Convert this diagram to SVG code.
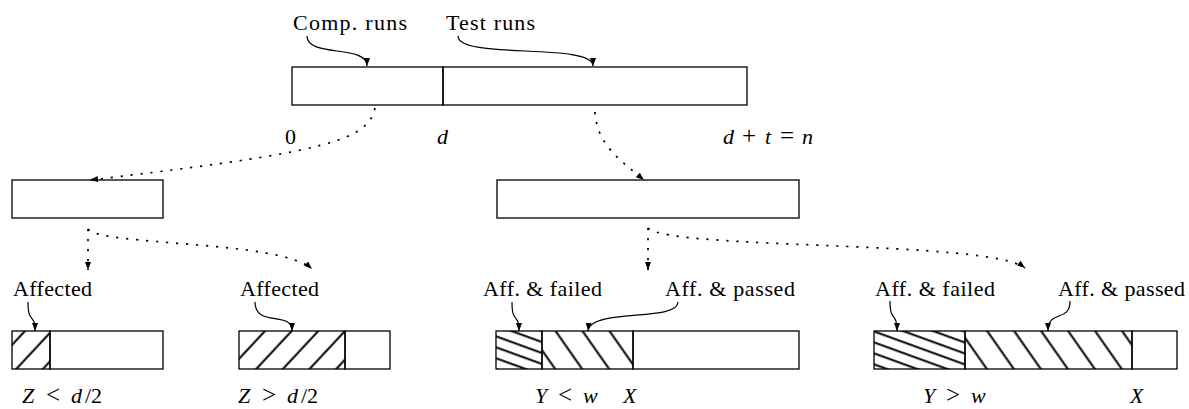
<svg xmlns="http://www.w3.org/2000/svg" width="1189" height="409" viewBox="0 0 1189 409">
<style>
.box{fill:none;stroke:#000;stroke-width:1.3}
.t{font-family:"Liberation Serif","Times New Roman",serif;font-size:22px;fill:#000}
.i{font-family:"Liberation Serif","Times New Roman",serif;font-style:italic}
.op{font-size:25px}
.cur{fill:none;stroke:#000;stroke-width:1.2;marker-end:url(#ah)}
.dot{fill:none;stroke:#000;stroke-width:1.7;stroke-dasharray:2.2 7.8;stroke-linecap:butt;marker-end:url(#ah)}
.hl{stroke:#000;stroke-width:2}
</style>
<defs>
<marker id="ah" viewBox="0 0 8 6" refX="8" refY="3" markerWidth="8" markerHeight="6" markerUnits="userSpaceOnUse" orient="auto">
<path d="M0,0 L8,3 L0,6 z" fill="#000" stroke="none"/>
</marker>
<pattern id="ne" patternUnits="userSpaceOnUse" width="10" height="19.5" patternTransform="translate(12,331) rotate(-47)">
<line class="hl" x1="-1" y1="9.5" x2="11" y2="9.5"/>
</pattern>
<pattern id="nw" patternUnits="userSpaceOnUse" width="10" height="22.1" patternTransform="translate(542,331) rotate(55)">
<line class="hl" x1="-1" y1="11" x2="11" y2="11"/>
</pattern>
<pattern id="nws" patternUnits="userSpaceOnUse" width="10" height="10.3" patternTransform="translate(496,331) rotate(20)">
<line class="hl" x1="-1" y1="5" x2="11" y2="5"/>
</pattern>
</defs>
<rect width="1189" height="409" fill="#fff"/>

<g id="top">
<rect class="box" x="292" y="67" width="151" height="38"/>
<rect class="box" x="443" y="67" width="304" height="38"/>
<text class="t" x="293" y="30" textLength="114">Comp. runs</text>
<text class="t" x="446" y="30" textLength="89">Test runs</text>
<text class="t" x="285" y="144">0</text>
<text class="t i" x="437" y="144">d</text>
<text class="t"><tspan class="i" x="723" y="144">d</tspan><tspan class="op" x="742" y="144">+</tspan><tspan class="i" x="765" y="144">t</tspan><tspan class="op" x="780" y="144">=</tspan><tspan class="i" x="802" y="144">n</tspan></text>
</g>

<g id="comp">
<rect class="box" x="12" y="180" width="151" height="38"/>
</g>
<g id="test">
<rect class="box" x="497" y="180" width="302" height="38"/>
</g>

<g id="bar1">
<rect x="12" y="331" width="38" height="38" fill="url(#ne)"/>
<rect class="box" x="12" y="331" width="38" height="38"/>
<rect class="box" x="50" y="331" width="113" height="38"/>
<text class="t" x="13" y="296" textLength="79">Affected</text>
<text class="t"><tspan class="i" x="22" y="403">Z</tspan><tspan class="op" x="46" y="403">&lt;</tspan><tspan class="i" x="71" y="403">d</tspan><tspan x="85" y="403">/2</tspan></text>
</g>

<g id="bar2">
<rect x="239" y="331" width="106" height="38" fill="url(#ne)"/>
<rect class="box" x="239" y="331" width="106" height="38"/>
<rect class="box" x="345" y="331" width="45" height="38"/>
<text class="t" x="240" y="296" textLength="79">Affected</text>
<text class="t"><tspan class="i" x="238" y="403">Z</tspan><tspan class="op" x="262" y="403">&gt;</tspan><tspan class="i" x="287" y="403">d</tspan><tspan x="301" y="403">/2</tspan></text>
</g>

<g id="bar3">
<rect x="496" y="331" width="46" height="38" fill="url(#nws)"/>
<rect x="542" y="331" width="91" height="38" fill="url(#nw)"/>
<rect class="box" x="496" y="331" width="46" height="38"/>
<rect class="box" x="542" y="331" width="91" height="38"/>
<rect class="box" x="633" y="331" width="166" height="38"/>
<text class="t" x="483" y="296" textLength="119">Aff. &amp; failed</text>
<text class="t" x="665" y="296" textLength="130">Aff. &amp; passed</text>
<text class="t"><tspan class="i" x="535" y="403">Y</tspan><tspan class="op" x="558" y="403">&lt;</tspan><tspan class="i" x="583" y="403">w</tspan></text>
<text class="t i" x="623" y="403">X</text>
</g>

<g id="bar4">
<rect x="874" y="331" width="91" height="38" fill="url(#nws)"/>
<rect x="965" y="331" width="167" height="38" fill="url(#nw)"/>
<rect class="box" x="874" y="331" width="91" height="38"/>
<rect class="box" x="965" y="331" width="167" height="38"/>
<rect class="box" x="1132" y="331" width="45" height="38"/>
<text class="t" x="875" y="296" textLength="120">Aff. &amp; failed</text>
<text class="t" x="1058" y="296" textLength="127">Aff. &amp; passed</text>
<text class="t"><tspan class="i" x="923" y="403">Y</tspan><tspan class="op" x="946" y="403">&gt;</tspan><tspan class="i" x="971" y="403">w</tspan></text>
<text class="t i" x="1130" y="403">X</text>
</g>

<g id="connectors">
<path class="cur" d="M307,36 C307,58 367,44 367,66"/>
<path class="cur" d="M458,36 C458,60 593,42 593,66"/>
<path class="cur" d="M28,302 C28,325 35,312 35,331"/>
<path class="cur" d="M255,302 C255,328 292,310 292,331"/>
<path class="cur" d="M512,302 C512,325 519,312 519,331"/>
<path class="cur" d="M678,302 C678,322 590,308 588,331"/>
<path class="cur" d="M890,301 C890,323 897,311 897,331"/>
<path class="cur" d="M1070,301 C1070,323 1048,309 1048,331"/>
<path class="dot" d="M375,108 C368,140 330,152 90,180"/>
<path class="dot" d="M595,112 C597,145 620,160 644,180"/>
<path class="dot" d="M88,229 L88,270"/>
<path class="dot" d="M88,229 C100,246 280,240 312,269"/>
<path class="dot" d="M648,228 L648,270"/>
<path class="dot" d="M648,228 C670,250 990,240 1025,268"/>
</g>
</svg>
